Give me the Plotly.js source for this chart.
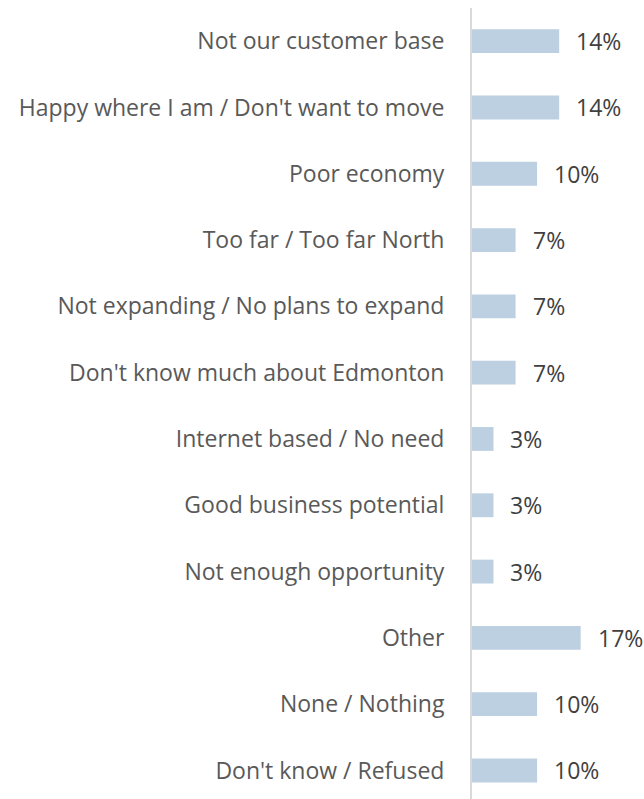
<!DOCTYPE html>
<html><head><meta charset="utf-8">
<script src="https://cdn.plot.ly/plotly-3.0.1.min.js"></script>
<style>html,body{margin:0;padding:0;background:#fff;}#chart{width:644px;height:799px;}</style>
</head><body><div id="chart"></div>
<script>
const categories = [
  "Not our customer base",
  "Happy where I am / Don't want to move",
  "Poor economy",
  "Too far / Too far North",
  "Not expanding / No plans to expand",
  "Don't know much about Edmonton",
  "Internet based / No need",
  "Good business potential",
  "Not enough opportunity",
  "Other",
  "None / Nothing",
  "Don't know / Refused"
];
const values = [13.8, 13.8, 10.3, 6.9, 6.9, 6.9, 3.4, 3.4, 3.4, 17.2, 10.3, 10.3];
const valueLabels = ["14%","14%","10%","7%","7%","7%","3%","3%","3%","17%","10%","10%"];

const trace = {
  type: 'bar', orientation: 'h',
  x: values, y: categories,
  marker: {color: '#BDD0E1'},
  hoverinfo: 'none'
};
const annotations = categories.map((c, i) => ({
  x: values[i], y: c, xref: 'x', yref: 'y',
  text: valueLabels[i], showarrow: false,
  xanchor: 'left', yanchor: 'middle', xshift: 15,
  font: {family: 'Open Sans, sans-serif', size: 23, color: '#404040'}
}));
const layout = {
  width: 644, height: 799,
  margin: {l: 472, r: 33, t: 8, b: 0},
  paper_bgcolor: '#fff', plot_bgcolor: '#fff',
  bargap: 0.64,
  showlegend: false,
  xaxis: {range: [0, 22], showgrid: false, zeroline: false, showticklabels: false, showline: false, fixedrange: true},
  yaxis: {
    type: 'category', range: [11.43, -0.5], showgrid: false, zeroline: false,
    showline: true, linecolor: '#D9D9D9', linewidth: 2,
    ticks: '', ticklabelstandoff: 21,
    tickfont: {family: 'Open Sans, sans-serif', size: 23, color: '#595959'}
  },
  annotations: annotations
};
Plotly.newPlot('chart', [trace], layout, {displayModeBar: false, staticPlot: true});
</script></body></html>
